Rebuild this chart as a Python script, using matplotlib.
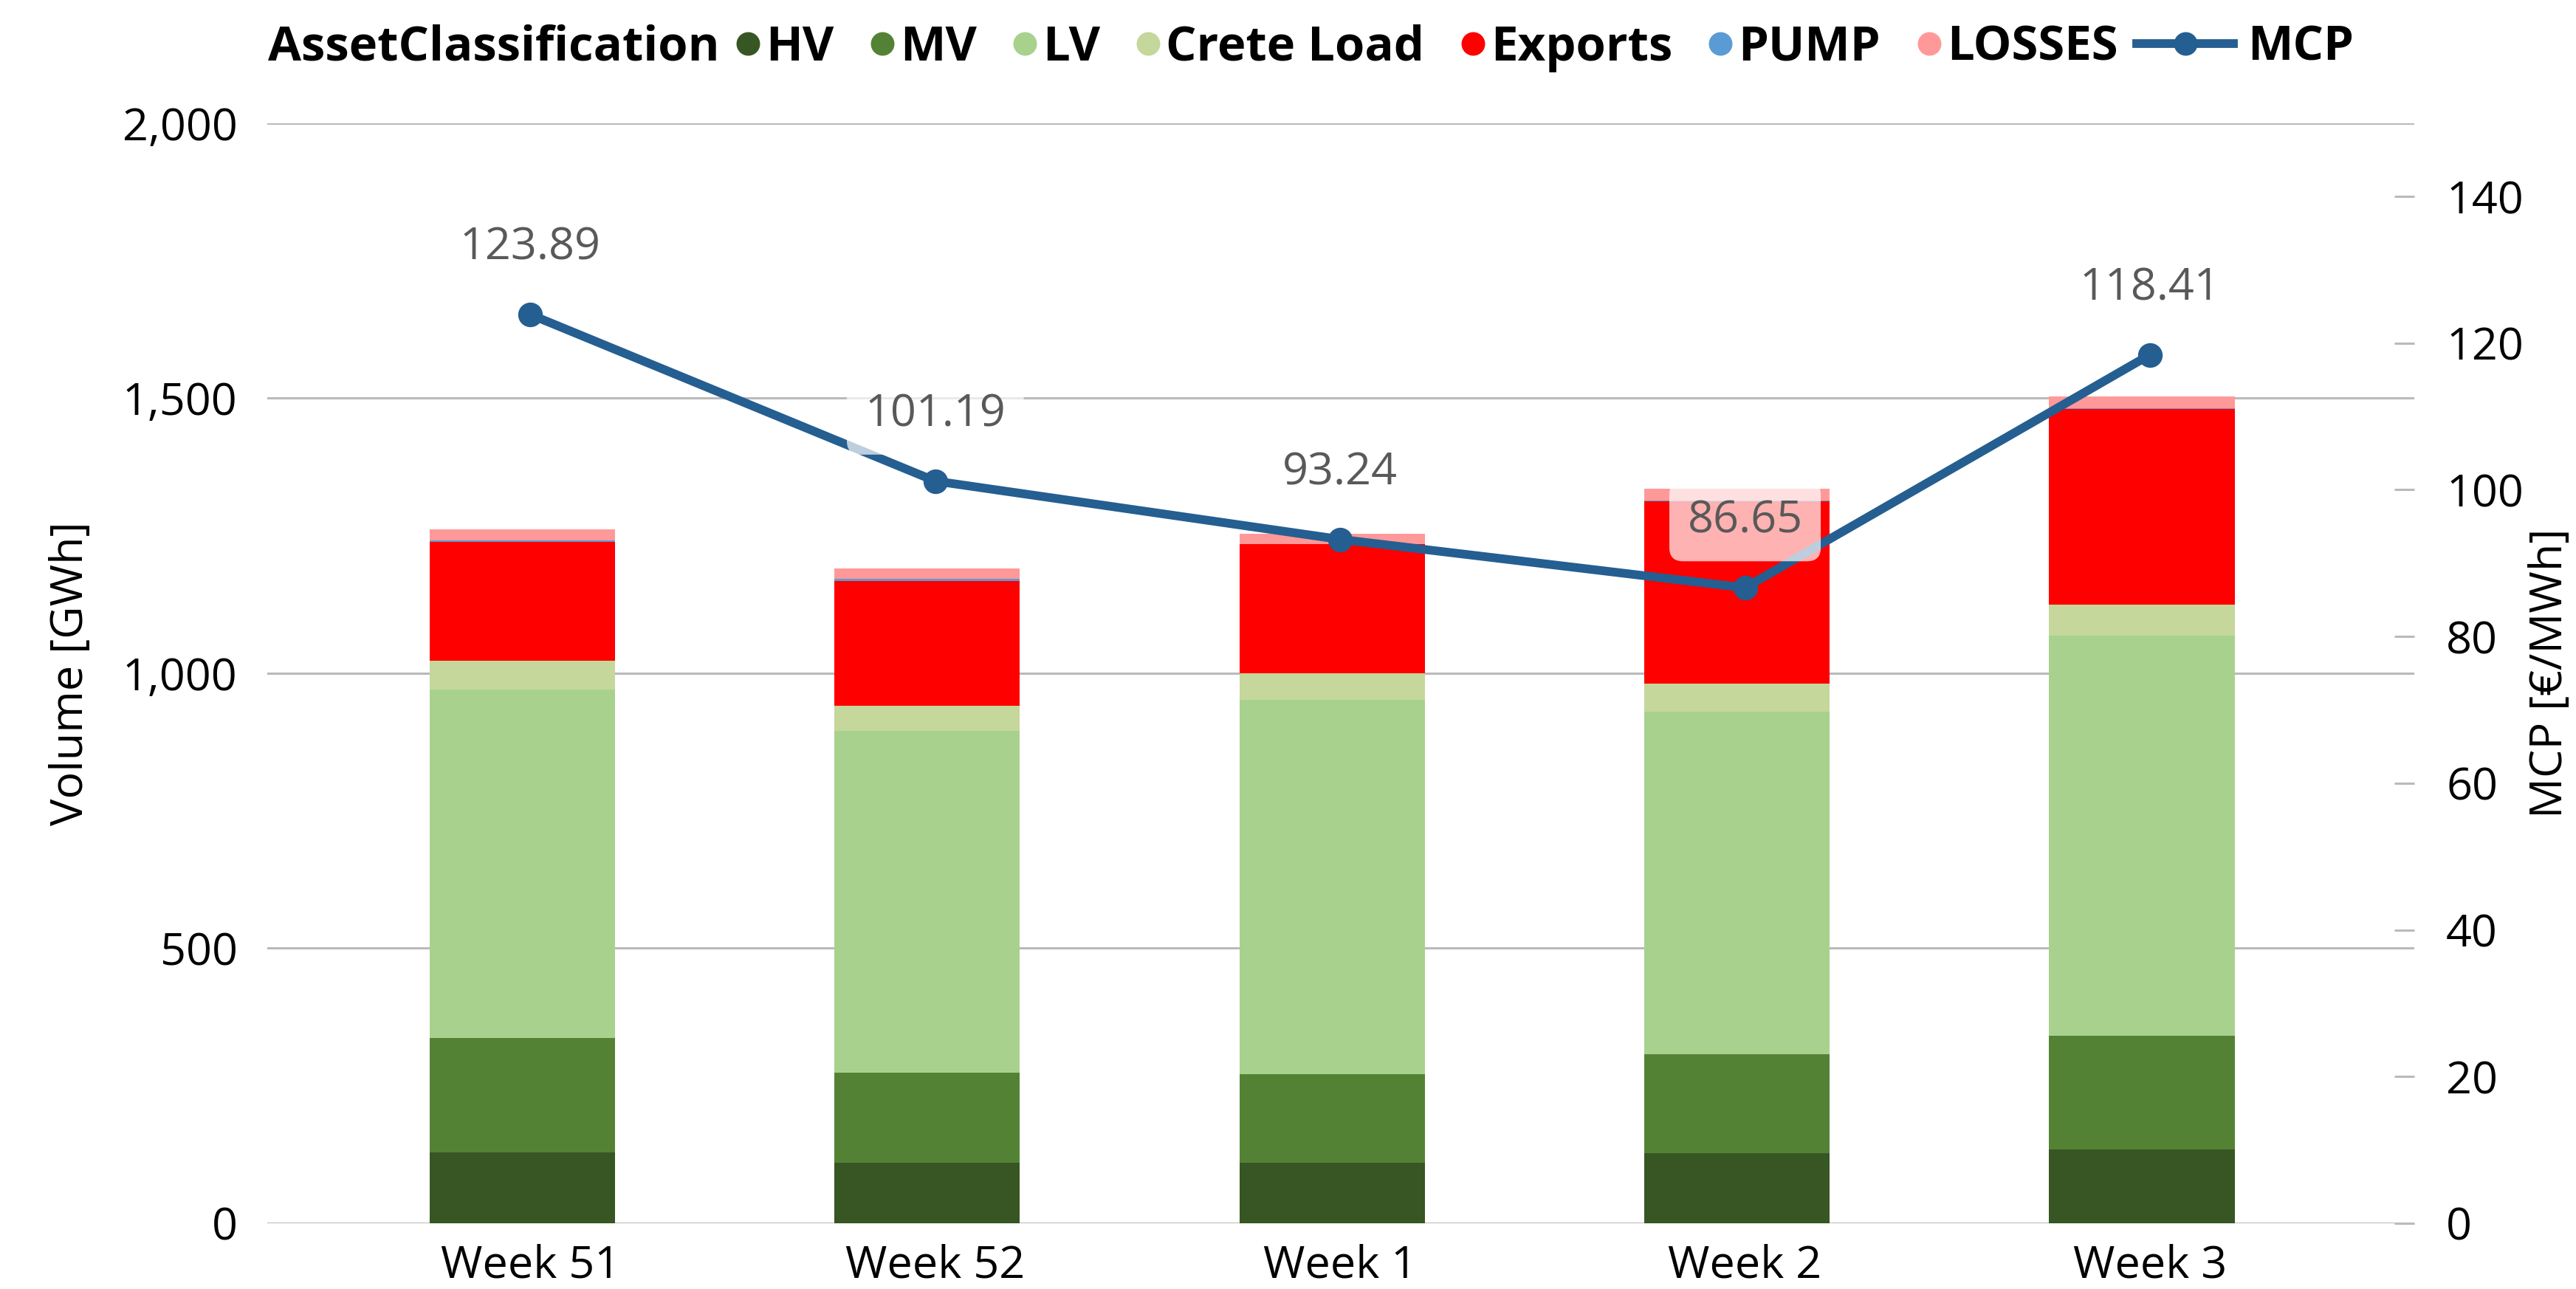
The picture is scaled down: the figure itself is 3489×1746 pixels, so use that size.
import matplotlib.pyplot as plt
import numpy as np
from matplotlib.lines import Line2D
from matplotlib.ticker import FuncFormatter

plt.rcParams['font.family'] = ['Open Sans', 'DejaVu Sans']

# data
weeks = ['Week 51', 'Week 52', 'Week 1', 'Week 2', 'Week 3']
hv = [129, 110, 110, 127, 134]
mv = [208, 164, 161, 180, 207]
lv = [633, 621, 680, 623, 727]
crete_load = [52, 46, 49, 51, 57]
exports = [217, 226, 234, 331, 355]
pump = [2, 4, 1, 2, 1]
losses = [21, 20, 19, 21, 22]
mcp = [123.89, 101.19, 93.24, 86.65, 118.41]

series = [
    ('HV', hv, '#375623'),
    ('MV', mv, '#548235'),
    ('LV', lv, '#A9D18E'),
    ('Crete Load', crete_load, '#C5D79B'),
    ('Exports', exports, '#FF0000'),
    ('PUMP', pump, '#5B9BD5'),
    ('LOSSES', losses, '#FF9999'),
]
line_color = '#255E91'
grid_color = '#BABABA'
FS = 44
LFS = 47

W, H = 3489, 1746
fig = plt.figure(figsize=(W / 100, H / 100), dpi=100)
ax = fig.add_axes([362 / W, 1 - 1657 / H, (3270 - 362) / W, (1657 - 166.7) / H])
ax2 = ax.twinx()

x = np.arange(len(weeks))
bottom = np.zeros(len(weeks))
for name, vals, c in series:
    ax.bar(x - 0.02, vals, 0.458, bottom=bottom, color=c, zorder=2, linewidth=0)
    bottom += np.array(vals)

ax.set_xlim(-0.65, 4.653)
ax.set_ylim(0, 2000)
ax.set_yticks(range(0, 2001, 500))
ax.yaxis.set_major_formatter(FuncFormatter(lambda v, p: f'{v:,.0f}'))
ax.yaxis.grid(True, color=grid_color, linewidth=2.2, zorder=0)
ax.set_axisbelow(True)
ax.set_xticks(x)
ax.set_xticklabels(weeks)
ax.tick_params(axis='x', length=0, pad=20, labelsize=FS)
ax.tick_params(axis='y', length=0, pad=29, labelsize=FS)
ax.set_ylabel('Volume [GWh]', fontsize=FS)
ax.yaxis.set_label_coords(-0.081, 0.5)
for s in ax.spines.values():
    s.set_visible(False)

ax2.plot(x, mcp, color=line_color, linewidth=8.5, marker='o', markersize=23, zorder=4)
ax2.set_ylim(0, 150)
ax2.set_yticks(range(0, 141, 20))
ax2.tick_params(axis='y', direction='in', length=19.5, width=2.2, color=grid_color,
                pad=31, labelsize=FS)
ax2.set_ylabel('MCP [€/MWh]', fontsize=FS)
ax2.yaxis.set_label_coords((3424 - 362) / (3270 - 362), 0.5)
for s in ax2.spines.values():
    s.set_visible(False)

for i, v in enumerate(mcp):
    ax2.annotate(f'{v:.2f}', (x[i], v), xytext=(0, 65), textcoords='offset points',
                 ha='center', va='center', color='#595959', fontsize=FS, zorder=6,
                 bbox=dict(boxstyle='round,pad=0.4,rounding_size=0.3', fc='white',
                           ec='none', alpha=0.7))

# legend: title text, circle entries, then the MCP line entry
title = fig.text(363 / W, 1 - 82 / H, 'AssetClassification', fontsize=LFS,
                 fontweight='bold', va='baseline', ha='left')
fig.canvas.draw()
r = fig.canvas.get_renderer()
bb = title.get_window_extent(r)
yc = (bb.y0 + bb.y1) / 2 / H

handles = [Line2D([], [], ls='none', marker='o', markersize=22, color=c, label=n)
           for n, _, c in series]
leg1 = fig.legend(handles=handles, loc='center left', bbox_to_anchor=((bb.x1 + 22) / W, yc),
                  ncol=len(handles), frameon=False, handlelength=0.5, handletextpad=0.12,
                  columnspacing=0.75, borderpad=0, borderaxespad=0,
                  prop=dict(weight='bold', size=LFS))
fig.canvas.draw()
bb1 = leg1.get_window_extent(r)
mcp_handle = Line2D([], [], color=line_color, linewidth=8.5, marker='o', markersize=22, label='MCP')
leg2 = fig.legend(handles=[mcp_handle], loc='center left', bbox_to_anchor=((bb1.x1 + 26) / W, yc),
                  frameon=False, handlelength=2.0, handletextpad=0.3, borderpad=0,
                  borderaxespad=0, prop=dict(weight='bold', size=LFS))

fig.savefig('out.png', dpi=100)
